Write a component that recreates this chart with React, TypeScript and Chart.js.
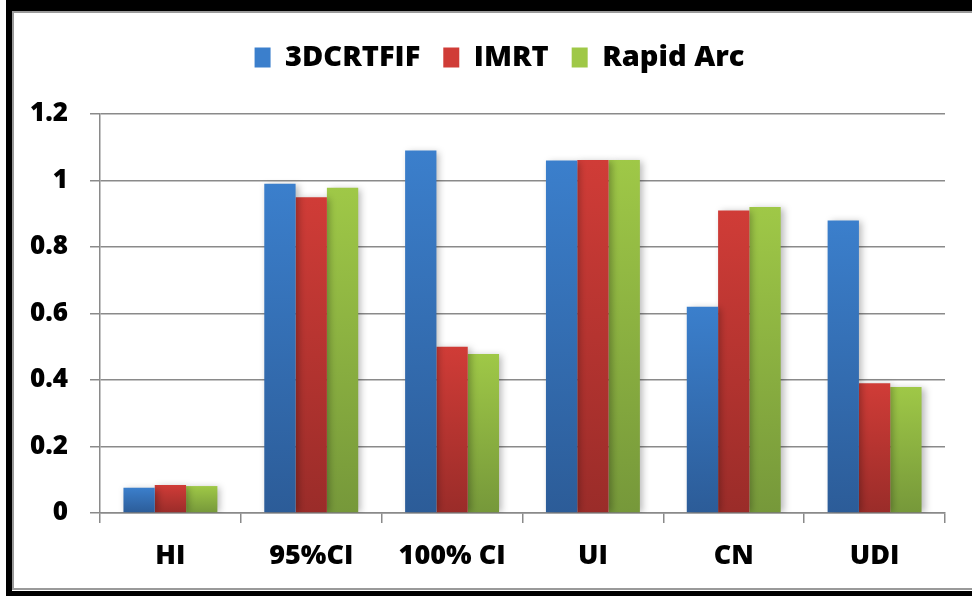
import React, { useEffect, useRef } from 'react';
import { Chart, registerables } from 'chart.js';

Chart.register(...registerables);

const categories = ['HI', '95%CI', '100% CI', 'UI', 'CN', 'UDI'];
const seriesNames = ['3DCRTFIF', 'IMRT', 'Rapid Arc'];
const values3DCRTFIF = [0.076, 0.99, 1.09, 1.06, 0.62, 0.88];
const valuesIMRT = [0.084, 0.95, 0.5, 1.062, 0.91, 0.39];
const valuesRapidArc = [0.081, 0.978, 0.478, 1.062, 0.92, 0.379];
const yTicks = [0, 0.2, 0.4, 0.6, 0.8, 1, 1.2];

const topColors = ['#3b7fcc', '#d03c37', '#9fc847'];
const bottomColors = ['#2c5c98', '#9a2c29', '#76983a'];

const FONT = "'Open Sans', 'DejaVu Sans', sans-serif";

function gradientFill(i: number) {
  return (ctx: any) => {
    const chart = ctx.chart;
    const y = chart.scales && chart.scales.y;
    if (!y || ctx.raw == null || typeof ctx.raw !== 'number') return topColors[i];
    const y0 = y.getPixelForValue(ctx.raw);
    const y1 = y.getPixelForValue(0);
    if (!isFinite(y0) || !isFinite(y1) || y0 === y1) return topColors[i];
    const g = chart.ctx.createLinearGradient(0, y0, 0, y1);
    g.addColorStop(0, topColors[i]);
    g.addColorStop(1, bottomColors[i]);
    return g;
  };
}

export default function App() {
  const ref = useRef<HTMLCanvasElement>(null);

  useEffect(() => {
    if (!ref.current) return;
    const allValues = [values3DCRTFIF, valuesIMRT, valuesRapidArc];

    const legendPlugin = {
      id: 'legendSpace',
      afterInit(chart: any) {
        const lg = chart.legend;
        if (!lg || lg.__patched) return;
        const fit = lg.fit;
        lg.fit = function () {
          fit.call(lg);
          lg.height = 94;
        };
        lg.__patched = true;
      },
      afterLayout(chart: any) {
        const lg = chart.legend;
        if (lg) {
          lg.left += 27;
          lg.right += 27;
        }
      },
    };

    const shadowPlugin = {
      id: 'barShadow',
      beforeDatasetsDraw(chart: any) {
        const c = chart.ctx;
        c.save();
        c.shadowColor = 'rgba(0,0,0,0.28)';
        c.shadowBlur = 7;
        c.shadowOffsetX = 3;
        c.shadowOffsetY = 1;
      },
      afterDatasetsDraw(chart: any) {
        chart.ctx.restore();
      },
    };

    const chart = new Chart(ref.current, {
      type: 'bar',
      data: {
        labels: categories,
        datasets: seriesNames.map((name, i) => ({
          label: name,
          data: allValues[i],
          backgroundColor: gradientFill(i),
          borderWidth: 0,
          categoryPercentage: 0.667,
          barPercentage: 1,
        })),
      },
      options: {
        animation: false,
        responsive: false,
        maintainAspectRatio: false,
        layout: { padding: { top: 20, left: 0, right: 27, bottom: 0 } },
        plugins: {
          tooltip: { enabled: false },
          legend: {
            position: 'top',
            align: 'center',
            labels: {
              boxWidth: 16,
              boxHeight: 20,
              padding: 23,
              color: '#000',
              font: { family: FONT, size: 29, weight: '800' },
            },
          },
        },
        scales: {
          x: {
            afterFit(scale: any) {
              scale.height = 83;
            },
            grid: {
              display: true,
              drawOnChartArea: false,
              drawTicks: true,
              tickLength: 10,
              color: '#8a8a8a',
              lineWidth: 1.5,
              offset: true,
            },
            border: { display: true, color: '#8a8a8a', width: 1.5 },
            ticks: {
              padding: 17,
              color: '#000',
              font: { family: FONT, size: 27, weight: '800' },
            },
          },
          y: {
            min: 0,
            max: 1.2,
            afterFit(scale: any) {
              scale.width = 100;
            },
            afterBuildTicks(scale: any) {
              scale.ticks = yTicks.map((v) => ({ value: v }));
            },
            grid: {
              color: '#8a8a8a',
              lineWidth: 1.5,
              drawTicks: true,
              tickLength: 10,
            },
            border: { display: true, color: '#8a8a8a', width: 1.5 },
            ticks: {
              padding: 22,
              color: '#000',
              font: { family: FONT, size: 26, weight: '800' },
              callback: (v: any) => String(Number(v)),
            },
          },
        },
      },
      plugins: [legendPlugin, shadowPlugin],
    });
    return () => chart.destroy();
  }, []);

  return (
    <div style={{ position: 'absolute', left: 0, top: 0, width: 972, height: 596, overflow: 'hidden', background: '#fff' }}>
      <div style={{ position: 'absolute', left: 6, top: 0, width: 980, height: 596, background: '#000' }} />
      <div style={{ position: 'absolute', left: 12, top: 11, width: 980, height: 580, background: '#fff' }} />
      <div
        style={{
          position: 'absolute',
          left: 12,
          top: 11,
          width: 980,
          height: 575,
          borderLeft: '2px solid #9a9a9a',
          borderTop: '2px solid #9a9a9a',
          borderBottom: '2px solid #9a9a9a',
        }}
      />
      <canvas ref={ref} width={972} height={596} style={{ position: 'absolute', left: 0, top: 0, width: 972, height: 596 }} />
    </div>
  );
}
